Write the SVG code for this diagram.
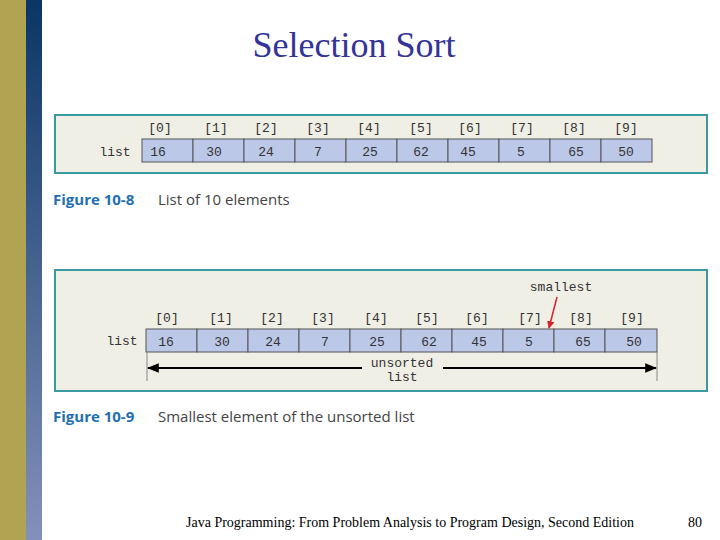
<svg xmlns="http://www.w3.org/2000/svg" width="720" height="540" viewBox="0 0 720 540">
<defs>
<linearGradient id="bg" x1="0" y1="0" x2="0" y2="1"><stop offset="0" stop-color="#0a3566"/><stop offset="1" stop-color="#8391ba"/></linearGradient>
<marker id="ah" viewBox="0 0 10 10" refX="9" refY="5" markerWidth="6" markerHeight="6" orient="auto-start-reverse"><path d="M0,1 L10,5 L0,9 z" fill="#000"/></marker>
<marker id="rh" viewBox="0 0 10 10" refX="9" refY="5" markerWidth="5" markerHeight="5" orient="auto"><path d="M0,0 L10,5 L0,10 z" fill="#d8202a"/></marker>
</defs>
<style>
.panel{fill:#efefe6;stroke:#3a9aa0;stroke-width:2}
.cell{fill:#bcc8e8;stroke:#555;stroke-width:1}
.mono{font-family:"Liberation Mono",monospace;font-size:13px;fill:#333;text-anchor:middle}
.cap{font-family:"Open Sans","Liberation Sans",sans-serif;font-size:15px;fill:#444}
.capb{font-family:"Open Sans","Liberation Sans",sans-serif;font-size:15px;fill:#1f6fb5;font-weight:bold}
</style>
<rect x="0" y="0" width="720" height="540" fill="#fff"/>
<rect x="0" y="0" width="26" height="540" fill="#b0a452"/>
<rect x="26" y="0" width="16" height="540" fill="url(#bg)"/>
<text x="354" y="57" text-anchor="middle" font-family="Liberation Serif,serif" font-size="36" fill="#333399">Selection Sort</text>
<g id="fig1">
<rect class="panel" x="55" y="115" width="652" height="58"/>
<text class="mono" x="115" y="156">list</text>
<g id="cells1">
<rect class="cell" x="142" y="139" width="51" height="23"/><rect class="cell" x="193" y="139" width="51" height="23"/><rect class="cell" x="244" y="139" width="51" height="23"/><rect class="cell" x="295" y="139" width="51" height="23"/><rect class="cell" x="346" y="139" width="51" height="23"/><rect class="cell" x="397" y="139" width="51" height="23"/><rect class="cell" x="448" y="139" width="51" height="23"/><rect class="cell" x="499" y="139" width="51" height="23"/><rect class="cell" x="550" y="139" width="51" height="23"/><rect class="cell" x="601" y="139" width="51" height="23"/>
</g>
<g class="mono">
<text x="160" y="132">[0]</text><text x="216" y="132">[1]</text><text x="266" y="132">[2]</text><text x="318" y="132">[3]</text><text x="369" y="132">[4]</text><text x="421" y="132">[5]</text><text x="470" y="132">[6]</text><text x="522" y="132">[7]</text><text x="574" y="132">[8]</text><text x="626" y="132">[9]</text>
<text x="158" y="156">16</text><text x="214" y="156">30</text><text x="266" y="156">24</text><text x="318" y="156">7</text><text x="370" y="156">25</text><text x="421" y="156">62</text><text x="468" y="156">45</text><text x="521" y="156">5</text><text x="576" y="156">65</text><text x="626" y="156">50</text>
</g>
<text x="53" y="205" class="capb">Figure 10-8</text><text x="158" y="205" class="cap">List of 10 elements</text>
</g>
<g id="fig2">
<rect class="panel" x="55" y="270" width="652" height="121"/>
<text class="mono" x="122" y="345">list</text>
<rect class="cell" x="146" y="329" width="51" height="23"/><rect class="cell" x="197" y="329" width="51" height="23"/><rect class="cell" x="248" y="329" width="51" height="23"/><rect class="cell" x="299" y="329" width="51" height="23"/><rect class="cell" x="350" y="329" width="51" height="23"/><rect class="cell" x="401" y="329" width="51" height="23"/><rect class="cell" x="452" y="329" width="51" height="23"/><rect class="cell" x="503" y="329" width="51" height="23"/><rect class="cell" x="554" y="329" width="51" height="23"/><rect class="cell" x="605" y="329" width="52" height="23"/>
<g class="mono">
<text x="167" y="322">[0]</text><text x="221" y="322">[1]</text><text x="272" y="322">[2]</text><text x="323" y="322">[3]</text><text x="376" y="322">[4]</text><text x="427" y="322">[5]</text><text x="477" y="322">[6]</text><text x="530" y="322">[7]</text><text x="581" y="322">[8]</text><text x="632" y="322">[9]</text>
<text x="166" y="346">16</text><text x="222" y="346">30</text><text x="273" y="346">24</text><text x="325" y="346">7</text><text x="377" y="346">25</text><text x="429" y="346">62</text><text x="479" y="346">45</text><text x="529" y="346">5</text><text x="583" y="346">65</text><text x="634" y="346">50</text>
<text x="561" y="291">smallest</text>
<text x="402" y="367">unsorted</text><text x="402" y="381">list</text>
</g>
<text x="53" y="422" class="capb">Figure 10-9</text><text x="158" y="422" class="cap">Smallest element of the unsorted list</text>
</g>
<g id="connectors">
<line x1="557" y1="297" x2="549" y2="328" stroke="#d8202a" stroke-width="1.5" marker-end="url(#rh)"/>
<line x1="147" y1="352" x2="147" y2="381" stroke="#888" stroke-width="1"/>
<line x1="657" y1="352" x2="657" y2="381" stroke="#888" stroke-width="1"/>
<line x1="148" y1="368" x2="362" y2="368" stroke="#000" stroke-width="2" marker-start="url(#ah)"/>
<line x1="443" y1="368" x2="656" y2="368" stroke="#000" stroke-width="2" marker-end="url(#ah)"/>
</g>
<text x="410" y="527" text-anchor="middle" font-family="Liberation Serif,serif" font-size="14" fill="#000">Java Programming: From Problem Analysis to Program Design, Second Edition</text>
<text x="695" y="527" text-anchor="middle" font-family="Liberation Serif,serif" font-size="14" fill="#000">80</text>
</svg>
